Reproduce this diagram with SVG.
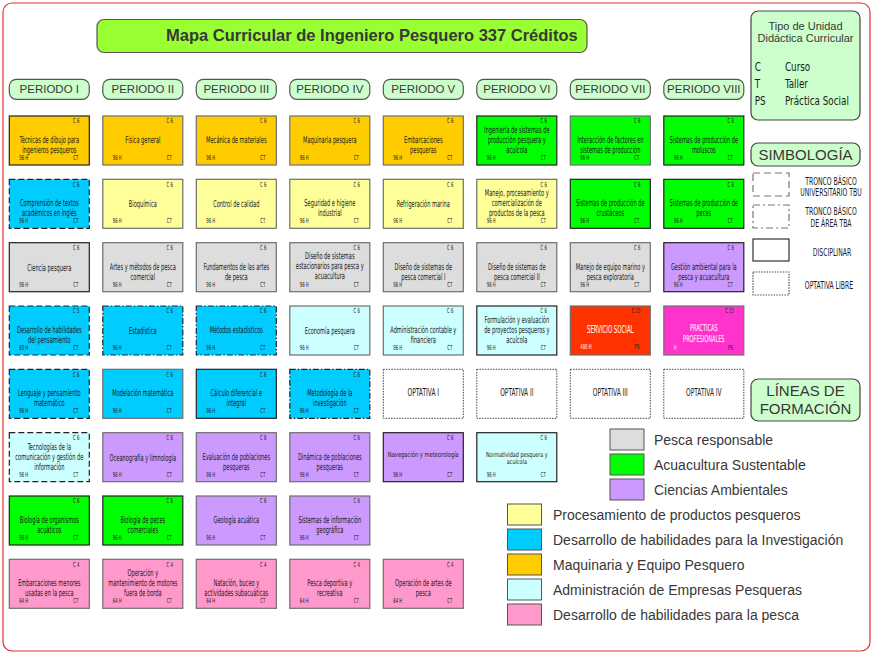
<svg xmlns="http://www.w3.org/2000/svg" width="874" height="656" viewBox="0 0 874 656">
<style>
rect{stroke-width:1.2}
.k{stroke:#222}
.g{stroke:#6e6e6e}
.tbu{stroke:#222;stroke-dasharray:6 3}
.tba{stroke:#222;stroke-dasharray:6 2 1.5 2}
.opt{fill:#fff;stroke:#444;stroke-width:1;stroke-dasharray:1.5 1.2}
.or{fill:#ffcc00}.ye{fill:#ffff99}.gr{fill:#dddddd}.gn{fill:#00ff00}.bl{fill:#00ccff}.cy{fill:#ccffff}.pu{fill:#cc99ff}.rd{fill:#ff3300}.mg{fill:#ff33cc}.pk{fill:#ff99cc}
.t,.s,.o,.c{font-family:"DejaVu Sans Condensed","DejaVu Sans",sans-serif;font-stretch:condensed;fill:#1a1a1a}
.t{font-size:9.4px;text-anchor:middle}
.o{font-size:11px;text-anchor:middle}
.s{font-size:7px}
.c{font-size:10px}
.e{text-anchor:end}
.w{fill:#fff}
.a{font-family:"Liberation Sans",Arial,sans-serif;fill:#383838}
.ph{fill:#ccffcc;stroke:#555}
.lg{stroke:#555;stroke-width:1}
</style>
<rect x="3" y="3" width="867" height="648" rx="9" fill="#fff" stroke="#e2302f" stroke-width="1.4"/>
<g id="title">
<rect x="97" y="19.5" width="490" height="33" rx="7" fill="#99ff33" stroke="#555"/>
<text class="a" x="166" y="40.5" font-size="16.5" font-weight="bold" fill="#333">Mapa Curricular de Ingeniero Pesquero 337 Créditos</text>
</g>
<g id="periods">
<g id="p1"><rect class="ph" x="9.3" y="79.3" width="80" height="20" rx="7"/><text class="a" x="49.3" y="93" font-size="11.5" text-anchor="middle">PERIODO I</text></g>
<g id="p2"><rect class="ph" x="102.8" y="79.3" width="80" height="20" rx="7"/><text class="a" x="142.8" y="93" font-size="11.5" text-anchor="middle">PERIODO II</text></g>
<g id="p3"><rect class="ph" x="196.3" y="79.3" width="80" height="20" rx="7"/><text class="a" x="236.3" y="93" font-size="11.5" text-anchor="middle">PERIODO III</text></g>
<g id="p4"><rect class="ph" x="289.8" y="79.3" width="80" height="20" rx="7"/><text class="a" x="329.8" y="93" font-size="11.5" text-anchor="middle">PERIODO IV</text></g>
<g id="p5"><rect class="ph" x="383.3" y="79.3" width="80" height="20" rx="7"/><text class="a" x="423.3" y="93" font-size="11.5" text-anchor="middle">PERIODO V</text></g>
<g id="p6"><rect class="ph" x="476.8" y="79.3" width="80" height="20" rx="7"/><text class="a" x="516.8" y="93" font-size="11.5" text-anchor="middle">PERIODO VI</text></g>
<g id="p7"><rect class="ph" x="570.3" y="79.3" width="80" height="20" rx="7"/><text class="a" x="610.3" y="93" font-size="11.5" text-anchor="middle">PERIODO VII</text></g>
<g id="p8"><rect class="ph" x="663.8" y="79.3" width="80" height="20" rx="7"/><text class="a" x="703.8" y="93" font-size="11.5" text-anchor="middle">PERIODO VIII</text></g>
</g>
<g id="connectors"/>
<!-- Periodo I -->
<g id="c1r1" transform="translate(9.3,116)"><rect class="or k" width="80" height="49"/><g transform="scale(.6 1)"><text class="s e" x="116.7" y="7.5">C 6</text><text class="t" x="66.7" y="27">Técnicas de dibujo para</text><text class="t" x="66.7" y="37">ingenieros pesqueros</text><text class="s" x="16.7" y="44">96 H</text><text class="s e" x="115" y="44">CT</text></g></g>
<g id="c1r2" transform="translate(9.3,179.3)"><rect class="bl tbu" width="80" height="49"/><g transform="scale(.6 1)"><text class="s e" x="116.7" y="7.5">C 6</text><text class="t" x="66.7" y="27">Comprensión de textos</text><text class="t" x="66.7" y="37">académicos en inglés</text><text class="s" x="16.7" y="44">96 H</text><text class="s e" x="115" y="44">CT</text></g></g>
<g id="c1r3" transform="translate(9.3,242.7)"><rect class="gr k" width="80" height="49"/><g transform="scale(.6 1)"><text class="s e" x="116.7" y="7.5">C 6</text><text class="t" x="66.7" y="28">Ciencia pesquera</text><text class="s" x="16.7" y="44">96 H</text><text class="s e" x="115" y="44">CT</text></g></g>
<g id="c1r4" transform="translate(9.3,306)"><rect class="bl tbu" width="80" height="49"/><g transform="scale(.6 1)"><text class="s e" x="116.7" y="7.5">C 5</text><text class="t" x="66.7" y="27">Desarrollo de habilidades</text><text class="t" x="66.7" y="37">del pensamiento</text><text class="s" x="16.7" y="44">80 H</text><text class="s e" x="115" y="44">CT</text></g></g>
<g id="c1r5" transform="translate(9.3,369.3)"><rect class="bl tbu" width="80" height="49"/><g transform="scale(.6 1)"><text class="s e" x="116.7" y="7.5">C 6</text><text class="t" x="66.7" y="27">Lenguaje y pensamiento</text><text class="t" x="66.7" y="37">matemático</text><text class="s" x="16.7" y="44">96 H</text><text class="s e" x="115" y="44">CT</text></g></g>
<g id="c1r6" transform="translate(9.3,432.7)"><rect class="cy tbu" width="80" height="49"/><g transform="scale(.6 1)"><text class="s e" x="116.7" y="7.5">C 6</text><text class="t" x="66.7" y="17">Tecnologías de la</text><text class="t" x="66.7" y="27">comunicación y gestión de</text><text class="t" x="66.7" y="37">información</text><text class="s" x="16.7" y="44">96 H</text><text class="s e" x="115" y="44">CT</text></g></g>
<g id="c1r7" transform="translate(9.3,496)"><rect class="gn k" width="80" height="49"/><g transform="scale(.6 1)"><text class="s e" x="116.7" y="7.5">C 6</text><text class="t" x="66.7" y="27">Biología de organismos</text><text class="t" x="66.7" y="37">acuáticos</text><text class="s" x="16.7" y="44">96 H</text><text class="s e" x="115" y="44">CT</text></g></g>
<g id="c1r8" transform="translate(9.3,559.3)"><rect class="pk g" width="80" height="49"/><g transform="scale(.6 1)"><text class="s e" x="116.7" y="7.5">C 4</text><text class="t" x="66.7" y="27">Embarcaciones menores</text><text class="t" x="66.7" y="37">usadas en la pesca</text><text class="s" x="16.7" y="44">64 H</text><text class="s e" x="115" y="44">CT</text></g></g>
<!-- Periodo II -->
<g id="c2r1" transform="translate(102.8,116)"><rect class="or g" width="80" height="49"/><g transform="scale(.6 1)"><text class="s e" x="116.7" y="7.5">C 6</text><text class="t" x="66.7" y="27">Física general</text><text class="s" x="16.7" y="44">96 H</text><text class="s e" x="115" y="44">CT</text></g></g>
<g id="c2r2" transform="translate(102.8,179.3)"><rect class="ye g" width="80" height="49"/><g transform="scale(.6 1)"><text class="s e" x="116.7" y="7.5">C 6</text><text class="t" x="66.7" y="27.5">Bioquímica</text><text class="s" x="16.7" y="44">96 H</text><text class="s e" x="115" y="44">CT</text></g></g>
<g id="c2r3" transform="translate(102.8,242.7)"><rect class="gr g" width="80" height="49"/><g transform="scale(.6 1)"><text class="s e" x="116.7" y="7.5">C 6</text><text class="t" x="66.7" y="27">Artes y métodos de pesca</text><text class="t" x="66.7" y="37">comercial</text><text class="s" x="16.7" y="44">96 H</text><text class="s e" x="115" y="44">CT</text></g></g>
<g id="c2r4" transform="translate(102.8,306)"><rect class="bl tba" width="80" height="49"/><g transform="scale(.6 1)"><text class="s e" x="116.7" y="7.5">C 6</text><text class="t" x="66.7" y="28">Estadística</text><text class="s" x="16.7" y="44">96 H</text><text class="s e" x="115" y="44">CT</text></g></g>
<g id="c2r5" transform="translate(102.8,369.3)"><rect class="bl g" width="80" height="49"/><g transform="scale(.6 1)"><text class="s e" x="116.7" y="7.5">C 6</text><text class="t" x="66.7" y="27">Modelación matemática</text><text class="s" x="16.7" y="44">96 H</text><text class="s e" x="115" y="44">CT</text></g></g>
<g id="c2r6" transform="translate(102.8,432.7)"><rect class="pu g" width="80" height="49"/><g transform="scale(.6 1)"><text class="s e" x="116.7" y="7.5">C 6</text><text class="t" x="66.7" y="28">Oceanografía y limnología</text><text class="s" x="16.7" y="44">96 H</text><text class="s e" x="115" y="44">CT</text></g></g>
<g id="c2r7" transform="translate(102.8,496)"><rect class="gn k" width="80" height="49"/><g transform="scale(.6 1)"><text class="s e" x="116.7" y="7.5">C 6</text><text class="t" x="66.7" y="27">Biología de peces</text><text class="t" x="66.7" y="37">comerciales</text><text class="s" x="16.7" y="44">96 H</text><text class="s e" x="115" y="44">CT</text></g></g>
<g id="c2r8" transform="translate(102.8,559.3)"><rect class="pk g" width="80" height="49"/><g transform="scale(.6 1)"><text class="s e" x="116.7" y="7.5">C 4</text><text class="t" x="66.7" y="17">Operación y</text><text class="t" x="66.7" y="27">mantenimiento de motores</text><text class="t" x="66.7" y="37">fuera de borda</text><text class="s" x="16.7" y="44">64 H</text><text class="s e" x="115" y="44">CT</text></g></g>
<!-- Periodo III -->
<g id="c3r1" transform="translate(196.3,116)"><rect class="or g" width="80" height="49"/><g transform="scale(.6 1)"><text class="s e" x="116.7" y="7.5">C 6</text><text class="t" x="66.7" y="27">Mecánica de materiales</text><text class="s" x="16.7" y="44">96 H</text><text class="s e" x="115" y="44">CT</text></g></g>
<g id="c3r2" transform="translate(196.3,179.3)"><rect class="ye g" width="80" height="49"/><g transform="scale(.6 1)"><text class="s e" x="116.7" y="7.5">C 6</text><text class="t" x="66.7" y="27.5">Control de calidad</text><text class="s" x="16.7" y="44">96 H</text><text class="s e" x="115" y="44">CT</text></g></g>
<g id="c3r3" transform="translate(196.3,242.7)"><rect class="gr g" width="80" height="49"/><g transform="scale(.6 1)"><text class="s e" x="116.7" y="7.5">C 6</text><text class="t" x="66.7" y="27">Fundamentos de las artes</text><text class="t" x="66.7" y="37">de pesca</text><text class="s" x="16.7" y="44">96 H</text><text class="s e" x="115" y="44">CT</text></g></g>
<g id="c3r4" transform="translate(196.3,306)"><rect class="bl tba" width="80" height="49"/><g transform="scale(.6 1)"><text class="s e" x="116.7" y="7.5">C 6</text><text class="t" x="66.7" y="27.5">Métodos estadísticos</text><text class="s" x="16.7" y="44">96 H</text><text class="s e" x="115" y="44">CT</text></g></g>
<g id="c3r5" transform="translate(196.3,369.3)"><rect class="bl k" width="80" height="49"/><g transform="scale(.6 1)"><text class="s e" x="116.7" y="7.5">C 6</text><text class="t" x="66.7" y="27">Cálculo diferencial e</text><text class="t" x="66.7" y="37">integral</text><text class="s" x="16.7" y="44">96 H</text><text class="s e" x="115" y="44">CT</text></g></g>
<g id="c3r6" transform="translate(196.3,432.7)"><rect class="pu g" width="80" height="49"/><g transform="scale(.6 1)"><text class="s e" x="116.7" y="7.5">C 6</text><text class="t" x="66.7" y="27">Evaluación de poblaciones</text><text class="t" x="66.7" y="37">pesqueras</text><text class="s" x="16.7" y="44">96 H</text><text class="s e" x="115" y="44">CT</text></g></g>
<g id="c3r7" transform="translate(196.3,496)"><rect class="pu g" width="80" height="49"/><g transform="scale(.6 1)"><text class="s e" x="116.7" y="7.5">C 6</text><text class="t" x="66.7" y="27.5">Geología acuática</text><text class="s" x="16.7" y="44">96 H</text><text class="s e" x="115" y="44">CT</text></g></g>
<g id="c3r8" transform="translate(196.3,559.3)"><rect class="pk g" width="80" height="49"/><g transform="scale(.6 1)"><text class="s e" x="116.7" y="7.5">C 4</text><text class="t" x="66.7" y="27">Natación, buceo y</text><text class="t" x="66.7" y="37">actividades subacuáticas</text><text class="s" x="16.7" y="44">64 H</text><text class="s e" x="115" y="44">CT</text></g></g>
<!-- Periodo IV -->
<g id="c4r1" transform="translate(289.8,116)"><rect class="or g" width="80" height="49"/><g transform="scale(.6 1)"><text class="s e" x="116.7" y="7.5">C 6</text><text class="t" x="66.7" y="27">Maquinaria  pesquera</text><text class="s" x="16.7" y="44">96 H</text><text class="s e" x="115" y="44">CT</text></g></g>
<g id="c4r2" transform="translate(289.8,179.3)"><rect class="ye g" width="80" height="49"/><g transform="scale(.6 1)"><text class="s e" x="116.7" y="7.5">C 6</text><text class="t" x="66.7" y="27">Seguridad e higiene</text><text class="t" x="66.7" y="37">industrial</text><text class="s" x="16.7" y="44">96 H</text><text class="s e" x="115" y="44">CT</text></g></g>
<g id="c4r3" transform="translate(289.8,242.7)"><rect class="gr g" width="80" height="49"/><g transform="scale(.6 1)"><text class="s e" x="116.7" y="7.5">C 6</text><text class="t" x="66.7" y="16.5">Diseño de sistemas</text><text class="t" x="66.7" y="26.5">estacionarios para pesca y</text><text class="t" x="66.7" y="36.5">acuacultura</text><text class="s" x="16.7" y="44">96 H</text><text class="s e" x="115" y="44">CT</text></g></g>
<g id="c4r4" transform="translate(289.8,306)"><rect class="cy g" width="80" height="49"/><g transform="scale(.6 1)"><text class="s e" x="116.7" y="7.5">C 6</text><text class="t" x="66.7" y="28">Economía pesquera</text><text class="s" x="16.7" y="44">96 H</text><text class="s e" x="115" y="44">CT</text></g></g>
<g id="c4r5" transform="translate(289.8,369.3)"><rect class="bl tba" width="80" height="49"/><g transform="scale(.6 1)"><text class="s e" x="116.7" y="7.5">C 6</text><text class="t" x="66.7" y="27">Metodología de la</text><text class="t" x="66.7" y="37">investigación</text><text class="s" x="16.7" y="44">96 H</text><text class="s e" x="115" y="44">CT</text></g></g>
<g id="c4r6" transform="translate(289.8,432.7)"><rect class="pu g" width="80" height="49"/><g transform="scale(.6 1)"><text class="s e" x="116.7" y="7.5">C 6</text><text class="t" x="66.7" y="27">Dinámica de poblaciones</text><text class="t" x="66.7" y="37">pesqueras</text><text class="s" x="16.7" y="44">96 H</text><text class="s e" x="115" y="44">CT</text></g></g>
<g id="c4r7" transform="translate(289.8,496)"><rect class="pu g" width="80" height="49"/><g transform="scale(.6 1)"><text class="s e" x="116.7" y="7.5">C 6</text><text class="t" x="66.7" y="27">Sistemas de información</text><text class="t" x="66.7" y="37">geográfica</text><text class="s" x="16.7" y="44">96 H</text><text class="s e" x="115" y="44">CT</text></g></g>
<g id="c4r8" transform="translate(289.8,559.3)"><rect class="pk g" width="80" height="49"/><g transform="scale(.6 1)"><text class="s e" x="116.7" y="7.5">C 4</text><text class="t" x="66.7" y="27">Pesca deportiva y</text><text class="t" x="66.7" y="37">recreativa</text><text class="s" x="16.7" y="44">64 H</text><text class="s e" x="115" y="44">CT</text></g></g>
<!-- Periodo V -->
<g id="c5r1" transform="translate(383.3,116)"><rect class="or g" width="80" height="49"/><g transform="scale(.6 1)"><text class="s e" x="116.7" y="7.5">C 6</text><text class="t" x="66.7" y="27">Embarcaciones</text><text class="t" x="66.7" y="37">pesqueras</text><text class="s" x="16.7" y="44">96 H</text><text class="s e" x="115" y="44">CT</text></g></g>
<g id="c5r2" transform="translate(383.3,179.3)"><rect class="ye g" width="80" height="49"/><g transform="scale(.6 1)"><text class="s e" x="116.7" y="7.5">C 6</text><text class="t" x="66.7" y="27.5">Refrigeración marina</text><text class="s" x="16.7" y="44">96 H</text><text class="s e" x="115" y="44">CT</text></g></g>
<g id="c5r3" transform="translate(383.3,242.7)"><rect class="gr g" width="80" height="49"/><g transform="scale(.6 1)"><text class="s e" x="116.7" y="7.5">C 6</text><text class="t" x="66.7" y="27">Diseño de sistemas de</text><text class="t" x="66.7" y="37">pesca comercial I</text><text class="s" x="16.7" y="44">96 H</text><text class="s e" x="115" y="44">CT</text></g></g>
<g id="c5r4" transform="translate(383.3,306)"><rect class="cy g" width="80" height="49"/><g transform="scale(.6 1)"><text class="s e" x="116.7" y="7.5">C 6</text><text class="t" x="66.7" y="27">Administración contable y</text><text class="t" x="66.7" y="37">financiera</text><text class="s" x="16.7" y="44">96 H</text><text class="s e" x="115" y="44">CT</text></g></g>
<g id="c5r5" transform="translate(383.3,369.3)"><rect class="opt" width="80" height="49"/><g transform="scale(.6 1)"><text class="o" x="66.7" y="27">OPTATIVA I</text></g></g>
<g id="c5r6" transform="translate(383.3,432.7)"><rect class="pu k" width="80" height="49"/><g transform="scale(.6 1)"><text class="s e" x="116.7" y="7.5">C 6</text><text class="s" x="16.7" y="44">96 H</text><text class="s e" x="115" y="44">CT</text></g><g transform="scale(.8 1)"><text class="t" x="50" y="24" style="font-size:7.2px">Navegación y meteorología</text></g></g>
<g id="c5r8" transform="translate(383.3,559.3)"><rect class="pk g" width="80" height="49"/><g transform="scale(.6 1)"><text class="s e" x="116.7" y="7.5">C 4</text><text class="t" x="66.7" y="27">Operación de artes de</text><text class="t" x="66.7" y="37">pesca</text><text class="s" x="16.7" y="44">64 H</text><text class="s e" x="115" y="44">CT</text></g></g>
<!-- Periodo VI -->
<g id="c6r1" transform="translate(476.8,116)"><rect class="gn k" width="80" height="49"/><g transform="scale(.6 1)"><text class="s e" x="116.7" y="7.5">C 6</text><text class="t" x="66.7" y="17">Ingeniería de sistemas de</text><text class="t" x="66.7" y="27">producción  pesquera y</text><text class="t" x="66.7" y="37">acuícola</text><text class="s" x="16.7" y="44">96 H</text><text class="s e" x="115" y="44">CT</text></g></g>
<g id="c6r2" transform="translate(476.8,179.3)"><rect class="ye g" width="80" height="49"/><g transform="scale(.6 1)"><text class="s e" x="116.7" y="7.5">C 6</text><text class="t" x="66.7" y="17">Manejo, procesamiento y</text><text class="t" x="66.7" y="27">comercialización de</text><text class="t" x="66.7" y="37">productos de la pesca</text><text class="s" x="16.7" y="44">96 H</text><text class="s e" x="115" y="44">CT</text></g></g>
<g id="c6r3" transform="translate(476.8,242.7)"><rect class="gr g" width="80" height="49"/><g transform="scale(.6 1)"><text class="s e" x="116.7" y="7.5">C 6</text><text class="t" x="66.7" y="27">Diseño de sistemas de</text><text class="t" x="66.7" y="37">pesca comercial II</text><text class="s" x="16.7" y="44">96 H</text><text class="s e" x="115" y="44">CT</text></g></g>
<g id="c6r4" transform="translate(476.8,306)"><rect class="cy k" width="80" height="49"/><g transform="scale(.6 1)"><text class="s e" x="116.7" y="7.5">C 6</text><text class="t" x="66.7" y="17">Formulación y evaluación</text><text class="t" x="66.7" y="27">de proyectos pesqueros y</text><text class="t" x="66.7" y="37">acuícola</text><text class="s" x="16.7" y="44">96 H</text><text class="s e" x="115" y="44">CT</text></g></g>
<g id="c6r5" transform="translate(476.8,369.3)"><rect class="opt" width="80" height="49"/><g transform="scale(.6 1)"><text class="o" x="66.7" y="27">OPTATIVA II</text></g></g>
<g id="c6r6" transform="translate(476.8,432.7)"><rect class="cy k" width="80" height="49"/><g transform="scale(.6 1)"><text class="s e" x="116.7" y="7.5">C 6</text><text class="s" x="16.7" y="44">96 H</text><text class="s e" x="115" y="44">CT</text></g><g transform="scale(.8 1)"><text class="t" x="50" y="24" style="font-size:6.8px">Normatividad pesquera y</text><text class="t" x="50" y="31.5" style="font-size:6.8px">acuícola</text></g></g>
<!-- Periodo VII -->
<g id="c7r1" transform="translate(570.3,116)"><rect class="gn g" width="80" height="49"/><g transform="scale(.6 1)"><text class="s e" x="116.7" y="7.5">C 6</text><text class="t" x="66.7" y="27">Interacción de factores en</text><text class="t" x="66.7" y="37">sistemas de producción</text><text class="s" x="16.7" y="44">96 H</text><text class="s e" x="115" y="44">CT</text></g></g>
<g id="c7r2" transform="translate(570.3,179.3)"><rect class="gn k" width="80" height="49"/><g transform="scale(.6 1)"><text class="s e" x="116.7" y="7.5">C 6</text><text class="t" x="66.7" y="27">Sistemas de producción de</text><text class="t" x="66.7" y="37">crustáceos</text><text class="s" x="16.7" y="44">96 H</text><text class="s e" x="115" y="44">CT</text></g></g>
<g id="c7r3" transform="translate(570.3,242.7)"><rect class="gr g" width="80" height="49"/><g transform="scale(.6 1)"><text class="s e" x="116.7" y="7.5">C 6</text><text class="t" x="66.7" y="27">Manejo de equipo marino y</text><text class="t" x="66.7" y="37">pesca exploratoria</text><text class="s" x="16.7" y="44">96 H</text><text class="s e" x="115" y="44">CT</text></g></g>
<g id="c7r4" transform="translate(570.3,306)"><rect class="rd g" width="80" height="49"/><g transform="scale(.6 1)"><text class="s e" x="116.7" y="7.5">C 15</text><text class="t w" x="66.7" y="27" style="font-size:10px">SERVICIO SOCIAL</text><text class="s w" x="16.7" y="43.5">480 H</text><text class="s e" x="115" y="43.5">PS</text></g></g>
<g id="c7r5" transform="translate(570.3,369.3)"><rect class="opt" width="80" height="49"/><g transform="scale(.6 1)"><text class="o" x="66.7" y="27">OPTATIVA III</text></g></g>
<!-- Periodo VIII -->
<g id="c8r1" transform="translate(663.8,116)"><rect class="gn k" width="80" height="49"/><g transform="scale(.6 1)"><text class="s e" x="116.7" y="7.5">C 6</text><text class="t" x="66.7" y="27">Sistemas de producción de</text><text class="t" x="66.7" y="37">moluscos</text><text class="s" x="16.7" y="44">96 H</text><text class="s e" x="115" y="44">CT</text></g></g>
<g id="c8r2" transform="translate(663.8,179.3)"><rect class="gn k" width="80" height="49"/><g transform="scale(.6 1)"><text class="s e" x="116.7" y="7.5">C 6</text><text class="t" x="66.7" y="27">Sistemas de producción de</text><text class="t" x="66.7" y="37">peces</text><text class="s" x="16.7" y="44">96 H</text><text class="s e" x="115" y="44">CT</text></g></g>
<g id="c8r3" transform="translate(663.8,242.7)"><rect class="pu k" width="80" height="49"/><g transform="scale(.6 1)"><text class="s e" x="116.7" y="7.5">C 6</text><text class="t" x="66.7" y="27">Gestión ambiental para la</text><text class="t" x="66.7" y="37">pesca y acuacultura</text><text class="s" x="16.7" y="44">96 H</text><text class="s e" x="115" y="44">CT</text></g></g>
<g id="c8r4" transform="translate(663.8,306)"><rect class="mg g" width="80" height="49"/><g transform="scale(.6 1)"><text class="s e" x="116.7" y="7.5">C 15</text><text class="t w" x="66.7" y="25.5" style="font-size:9.3px">PRACTICAS</text><text class="t w" x="66.7" y="36.5" style="font-size:9.3px">PROFESIONALES</text><text class="s w" x="16.7" y="44">H</text><text class="s e" x="115" y="44">PS</text></g></g>
<g id="c8r5" transform="translate(663.8,369.3)"><rect class="opt" width="80" height="49"/><g transform="scale(.6 1)"><text class="o" x="66.7" y="27">OPTATIVA IV</text></g></g>
<!-- Tipo de unidad -->
<g id="tipo">
<rect x="751" y="11" width="109" height="109" rx="7" fill="#ccffcc" stroke="#444"/>
<text class="a" x="805.5" y="30" font-size="11" text-anchor="middle">Tipo de Unidad</text>
<text class="a" x="805.5" y="42" font-size="11" text-anchor="middle">Didáctica Curricular</text>
<g transform="scale(.85 1)">
<text class="c" x="888" y="71" style="font-size:11.5px">C</text><text class="c" x="923.5" y="71" style="font-size:11.5px">Curso</text>
<text class="c" x="888" y="88" style="font-size:11.5px">T</text><text class="c" x="923.5" y="88" style="font-size:11.5px">Taller</text>
<text class="c" x="888" y="105" style="font-size:11.5px">PS</text><text class="c" x="923.5" y="105" style="font-size:11.5px">Práctica Social</text>
</g>
</g>
<!-- Simbología -->
<g id="simbologia">
<rect x="751" y="143" width="109" height="23" rx="7" fill="#ccffcc" stroke="#444"/>
<text class="a" x="805.5" y="160" font-size="15" text-anchor="middle">SIMBOLOGÍA</text>
</g>
<g id="sym-tbu">
<rect x="753" y="173" width="36" height="23" fill="#fff" stroke="#777" stroke-width="1.5" stroke-dasharray="7 4"/>
<g transform="translate(831,0) scale(.68 1)"><text class="c" x="0" y="185" text-anchor="middle">TRONCO BÁSICO</text><text class="c" x="0" y="196" text-anchor="middle">UNIVERSITARIO TBU</text></g>
</g>
<g id="sym-tba">
<rect x="753" y="205" width="36" height="23" fill="#fff" stroke="#777" stroke-width="1.5" stroke-dasharray="7 3 2 3"/>
<g transform="translate(831,0) scale(.68 1)"><text class="c" x="0" y="215.5" text-anchor="middle">TRONCO BÁSICO</text><text class="c" x="0" y="227" text-anchor="middle">DE ÁREA TBA</text></g>
</g>
<g id="sym-disc">
<rect x="753" y="239" width="36" height="22" fill="#fff" stroke="#333" stroke-width="1.2"/>
<g transform="translate(832,0) scale(.68 1)"><text class="c" x="0" y="256" text-anchor="middle">DISCIPLINAR</text></g>
</g>
<g id="sym-opt">
<rect x="753" y="272" width="36" height="23" fill="#fff" stroke="#555" stroke-width="1" stroke-dasharray="1.5 1.2"/>
<g transform="translate(829,0) scale(.68 1)"><text class="c" x="0" y="289" text-anchor="middle">OPTATIVA LIBRE</text></g>
</g>
<!-- Líneas de formación -->
<g id="lineas">
<rect x="751" y="379" width="109" height="42" rx="7" fill="#ccffcc" stroke="#444"/>
<text class="a" x="805.5" y="396" font-size="15" text-anchor="middle">LÍNEAS DE</text>
<text class="a" x="805.5" y="414" font-size="15" text-anchor="middle">FORMACIÓN</text>
</g>
<g id="leyenda">
<g id="lg-pesca"><rect class="lg gr" x="610" y="429" width="34" height="21"/><text class="a" x="654" y="445" font-size="14">Pesca responsable</text></g>
<g id="lg-acua"><rect class="lg gn" x="610" y="454" width="34" height="21"/><text class="a" x="654" y="470" font-size="14">Acuacultura Sustentable</text></g>
<g id="lg-amb"><rect class="lg pu" x="610" y="479" width="34" height="21"/><text class="a" x="654" y="495" font-size="14">Ciencias Ambientales</text></g>
<g id="lg-proc"><rect class="lg ye" x="507.5" y="504" width="34" height="21"/><text class="a" x="553" y="520" font-size="14">Procesamiento de productos pesqueros</text></g>
<g id="lg-inv"><rect class="lg bl" x="507.5" y="529" width="34" height="21"/><text class="a" x="553" y="545" font-size="14">Desarrollo de habilidades para la Investigación</text></g>
<g id="lg-maq"><rect class="lg or" x="507.5" y="554" width="34" height="21"/><text class="a" x="553" y="570" font-size="14">Maquinaria y Equipo Pesquero</text></g>
<g id="lg-adm"><rect class="lg cy" x="507.5" y="579" width="34" height="21"/><text class="a" x="553" y="595" font-size="14">Administración de Empresas Pesqueras</text></g>
<g id="lg-hab"><rect class="lg pk" x="507.5" y="604" width="34" height="21"/><text class="a" x="553" y="620" font-size="14">Desarrollo de habilidades para la pesca</text></g>
</g>
</svg>
